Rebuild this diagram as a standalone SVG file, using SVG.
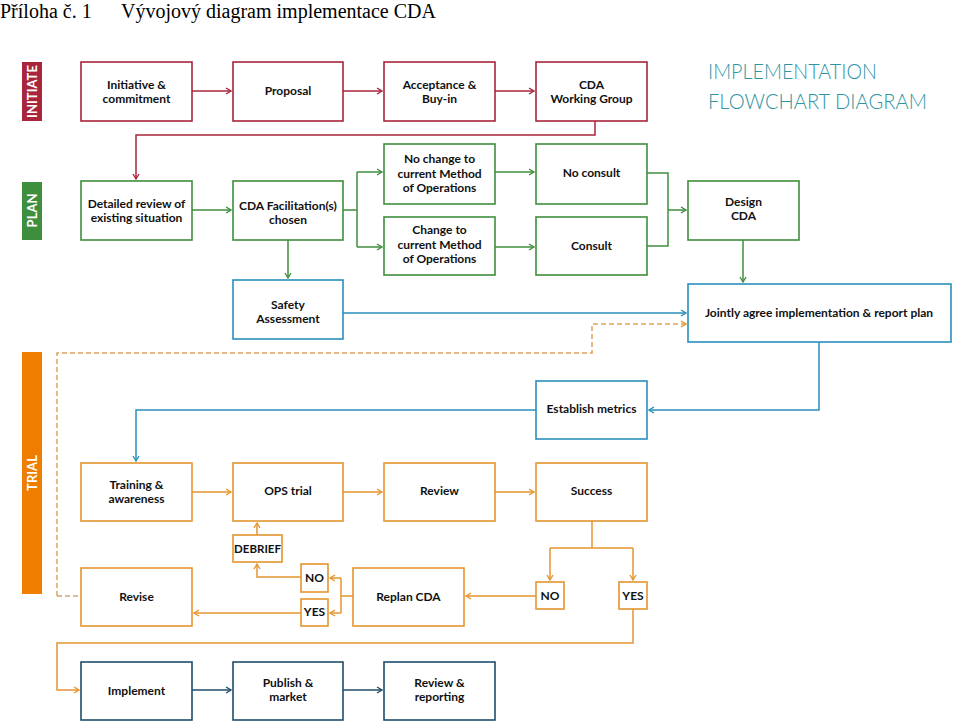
<svg xmlns="http://www.w3.org/2000/svg" width="960" height="728" viewBox="0 0 960 728">
<style>
.bx{fill:#fff;stroke-width:1.6}
.r{stroke:#a8253c}.g{stroke:#3e8e3e}.b{stroke:#2a8fbd}.o{stroke:#e4952f}.n{stroke:#1f4e6b}
.t{font-family:Lato,"Liberation Sans",sans-serif;font-weight:bold;font-size:12px;fill:#111;text-anchor:middle}
.sm{font-size:11.5px}
.side{font-family:Lato,"Liberation Sans",sans-serif;font-weight:bold;font-size:13px;fill:#fff;text-anchor:middle;dominant-baseline:central}
.c{fill:none;stroke-width:1.5}
.hd{font-family:"Liberation Serif",serif;font-size:20px;fill:#000}
.ttl{font-family:Lato,"Open Sans",sans-serif;font-weight:300;font-size:22px;fill:#2f95a4}
</style>
<defs>
<marker id="ar" markerUnits="userSpaceOnUse" markerWidth="8" markerHeight="8" refX="5" refY="3" orient="auto" overflow="visible"><path d="M0,0 L5,3 L0,6" fill="none" stroke="#a8253c" stroke-width="1.4"/></marker>
<marker id="ag" markerUnits="userSpaceOnUse" markerWidth="8" markerHeight="8" refX="5" refY="3" orient="auto" overflow="visible"><path d="M0,0 L5,3 L0,6" fill="none" stroke="#3e8e3e" stroke-width="1.4"/></marker>
<marker id="ab" markerUnits="userSpaceOnUse" markerWidth="8" markerHeight="8" refX="5" refY="3" orient="auto" overflow="visible"><path d="M0,0 L5,3 L0,6" fill="none" stroke="#2a8fbd" stroke-width="1.4"/></marker>
<marker id="ao" markerUnits="userSpaceOnUse" markerWidth="8" markerHeight="8" refX="5" refY="3" orient="auto" overflow="visible"><path d="M0,0 L5,3 L0,6" fill="none" stroke="#e4952f" stroke-width="1.4"/></marker>
<marker id="an" markerUnits="userSpaceOnUse" markerWidth="8" markerHeight="8" refX="5" refY="3" orient="auto" overflow="visible"><path d="M0,0 L5,3 L0,6" fill="none" stroke="#1f4e6b" stroke-width="1.4"/></marker>
</defs>
<rect width="960" height="728" fill="#fff"/>
<text class="hd" x="0" y="18">Příloha č. 1</text>
<text class="hd" x="121" y="18">Vývojový diagram implementace CDA</text>
<text class="ttl" x="708" y="79" textLength="169" lengthAdjust="spacingAndGlyphs">IMPLEMENTATION</text>
<text class="ttl" x="708" y="109" textLength="219" lengthAdjust="spacingAndGlyphs">FLOWCHART DIAGRAM</text>

<g id="phase-initiate"><rect x="22" y="62" width="20" height="59" fill="#a8253c"/><text class="side" transform="translate(32,91.5) rotate(-90)">INITIATE</text></g>
<g id="phase-plan"><rect x="22" y="182" width="20" height="58" fill="#3e8e3e"/><text class="side" transform="translate(32,210.5) rotate(-90)">PLAN</text></g>
<g id="phase-trial"><rect x="22" y="352" width="20" height="242" fill="#ef7d00"/><text class="side" transform="translate(32,473) rotate(-90)">TRIAL</text></g>

<g id="connectors">
<g class="c" stroke="#a8253c">
<path d="M192,91 H231" marker-end="url(#ar)"/>
<path d="M343,91 H382" marker-end="url(#ar)"/>
<path d="M495,91 H534" marker-end="url(#ar)"/>
<path d="M595,121 V135 H136 V179" marker-end="url(#ar)"/>
</g>
<g class="c" stroke="#3e8e3e">
<path d="M192,210 H231" marker-end="url(#ag)"/>
<path d="M343,210 H357"/>
<path d="M357,172 V247"/>
<path d="M357,172 H382" marker-end="url(#ag)"/>
<path d="M357,247 H382" marker-end="url(#ag)"/>
<path d="M495,172 H534" marker-end="url(#ag)"/>
<path d="M495,247 H534" marker-end="url(#ag)"/>
<path d="M647,173 H668 V246 H647"/>
<path d="M668,210 H686" marker-end="url(#ag)"/>
<path d="M743,240 V282" marker-end="url(#ag)"/>
<path d="M288,240 V278" marker-end="url(#ag)"/>
</g>
<g class="c" stroke="#2a8fbd">
<path d="M343,313 H686" marker-end="url(#ab)"/>
<path d="M819,342 V410 H649" marker-end="url(#ab)"/>
<path d="M536,410 H136 V461" marker-end="url(#ab)"/>
</g>
<path class="c" d="M57,596 V353 H592 V324 H686" stroke="#dca45a" stroke-dasharray="5,3" marker-end="url(#ao)"/>
<path class="c" d="M57,596 H81" stroke="#c9a87a" stroke-dasharray="5,3"/>
<g class="c" stroke="#e4952f">
<path d="M192,492 H231" marker-end="url(#ao)"/>
<path d="M343,492 H382" marker-end="url(#ao)"/>
<path d="M495,492 H534" marker-end="url(#ao)"/>
<path d="M592,521 V548"/>
<path d="M550,548 H633"/>
<path d="M550,548 V580" marker-end="url(#ao)"/>
<path d="M633,548 V580" marker-end="url(#ao)"/>
<path d="M536,596 H466" marker-end="url(#ao)"/>
<path d="M353,596 H341"/>
<path d="M341,578 V613"/>
<path d="M341,578 H330" marker-end="url(#ao)"/>
<path d="M341,613 H330" marker-end="url(#ao)"/>
<path d="M301,577 H257 V564" marker-end="url(#ao)"/>
<path d="M257,535 V523" marker-end="url(#ao)"/>
<path d="M301,613 H194" marker-end="url(#ao)"/>
<path d="M633,609 V643 H57 V690 H79" marker-end="url(#ao)"/>
</g>
<g class="c" stroke="#1f4e6b">
<path d="M192,690 H231" marker-end="url(#an)"/>
<path d="M343,690 H382" marker-end="url(#an)"/>
</g>
</g>

<g id="initiative"><rect class="bx r" x="81" y="62" width="111" height="59"/><text class="t" x="136.5" y="89">Initiative &amp;</text><text class="t" x="136.5" y="103">commitment</text></g>
<g id="proposal"><rect class="bx r" x="233" y="62" width="110" height="59"/><text class="t" x="288" y="95">Proposal</text></g>
<g id="acceptance"><rect class="bx r" x="384" y="62" width="111" height="59"/><text class="t" x="439.5" y="89">Acceptance &amp;</text><text class="t" x="439.5" y="103">Buy-in</text></g>
<g id="working-group"><rect class="bx r" x="536" y="62" width="111" height="59"/><text class="t" x="591.5" y="89">CDA</text><text class="t" x="591.5" y="103">Working Group</text></g>

<g id="detailed-review"><rect class="bx g" x="81" y="181" width="111" height="59"/><text class="t" x="136.5" y="208">Detailed review of</text><text class="t" x="136.5" y="222">existing situation</text></g>
<g id="facilitation"><rect class="bx g" x="233" y="181" width="110" height="59"/><text class="t" x="288" y="210">CDA Facilitation(s)</text><text class="t" x="288" y="224">chosen</text></g>
<g id="no-change"><rect class="bx g" x="384" y="144" width="111" height="60"/><text class="t" x="439.5" y="163">No change to</text><text class="t" x="439.5" y="178">current Method</text><text class="t" x="439.5" y="192">of Operations</text></g>
<g id="change"><rect class="bx g" x="384" y="217" width="111" height="58"/><text class="t" x="439.5" y="234">Change to</text><text class="t" x="439.5" y="249">current Method</text><text class="t" x="439.5" y="263">of Operations</text></g>
<g id="no-consult"><rect class="bx g" x="536" y="144" width="111" height="60"/><text class="t" x="591.5" y="177">No consult</text></g>
<g id="consult"><rect class="bx g" x="536" y="217" width="111" height="58"/><text class="t" x="591.5" y="250">Consult</text></g>
<g id="design-cda"><rect class="bx g" x="688" y="181" width="111" height="59"/><text class="t" x="743.5" y="206">Design</text><text class="t" x="743.5" y="220">CDA</text></g>

<g id="safety"><rect class="bx b" x="233" y="280" width="110" height="59"/><text class="t" x="288" y="309">Safety</text><text class="t" x="288" y="323">Assessment</text></g>
<g id="jointly"><rect class="bx b" x="688" y="284" width="263" height="58"/><text class="t" x="819" y="317">Jointly agree implementation &amp; report plan</text></g>
<g id="metrics"><rect class="bx b" x="536" y="381" width="111" height="58"/><text class="t" x="591.5" y="413">Establish metrics</text></g>

<g id="training"><rect class="bx o" x="81" y="463" width="111" height="58"/><text class="t" x="136.5" y="489">Training &amp;</text><text class="t" x="136.5" y="503">awareness</text></g>
<g id="ops-trial"><rect class="bx o" x="233" y="463" width="110" height="58"/><text class="t" x="288" y="495">OPS trial</text></g>
<g id="review"><rect class="bx o" x="384" y="463" width="111" height="58"/><text class="t" x="439.5" y="495">Review</text></g>
<g id="success"><rect class="bx o" x="536" y="463" width="111" height="58"/><text class="t" x="591.5" y="495">Success</text></g>
<g id="debrief"><rect class="bx o" x="233" y="535" width="49" height="27"/><text class="t sm" x="257.5" y="553">DEBRIEF</text></g>
<g id="no-small"><rect class="bx o" x="301" y="564" width="27" height="28"/><text class="t" x="314.5" y="582">NO</text></g>
<g id="yes-small"><rect class="bx o" x="301" y="599" width="27" height="27"/><text class="t" x="314.5" y="616">YES</text></g>
<g id="revise"><rect class="bx o" x="81" y="568" width="111" height="58"/><text class="t" x="136.5" y="601">Revise</text></g>
<g id="replan"><rect class="bx o" x="353" y="568" width="111" height="58"/><text class="t" x="408.5" y="601">Replan CDA</text></g>
<g id="no"><rect class="bx o" x="536" y="582" width="28" height="27"/><text class="t" x="550" y="600">NO</text></g>
<g id="yes"><rect class="bx o" x="619" y="582" width="28" height="27"/><text class="t" x="633" y="600">YES</text></g>

<g id="implement"><rect class="bx n" x="81" y="662" width="111" height="58"/><text class="t" x="136.5" y="695">Implement</text></g>
<g id="publish"><rect class="bx n" x="233" y="662" width="110" height="58"/><text class="t" x="288" y="687">Publish &amp;</text><text class="t" x="288" y="701">market</text></g>
<g id="review-reporting"><rect class="bx n" x="384" y="662" width="111" height="58"/><text class="t" x="439.5" y="687">Review &amp;</text><text class="t" x="439.5" y="701">reporting</text></g>
</svg>
